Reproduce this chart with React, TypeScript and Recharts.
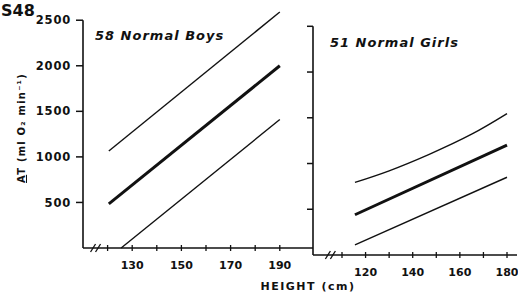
import React from "react";
import { LineChart, Line, XAxis, YAxis, ReferenceLine } from "recharts";

// ---- data ----
const boysUpper = [
  { h: 120.5, at: 1065 },
  { h: 190, at: 2590 },
];
const boysMean = [
  { h: 120.5, at: 485 },
  { h: 190, at: 2000 },
];
const boysLower = [
  { h: 125.5, at: 0 },
  { h: 190, at: 1410 },
];

const girlsUpper = [
  { h: 115.5, at: 793 },
  { h: 130, at: 920 },
  { h: 147, at: 1100 },
  { h: 165, at: 1320 },
  { h: 180, at: 1545 },
];
const girlsMean = [
  { h: 115.5, at: 440 },
  { h: 180, at: 1200 },
];
const girlsLower = [
  { h: 115.5, at: 110 },
  { h: 180, at: 850 },
];

const yTicks = [500, 1000, 1500, 2000, 2500];
const boysXTicks = [120, 130, 140, 150, 160, 170, 180, 190];
const boysXLabels = [130, 150, 170, 190];
const boysBreak = 115.5;
const girlsXTicks = [110, 120, 130, 140, 150, 160, 170, 180];
const girlsXLabels = [120, 140, 160, 180];
const girlsBreak = 105.5;

const INK = "#111";
const FONT = "'DejaVu Sans', sans-serif";

const makeXTick = (labels: number[], breakAt: number) => (props: any) => {
  const { x, y, payload } = props;
  const v = payload.value;
  if (v === breakAt) {
    return (
      <g stroke={INK} strokeWidth={1.3}>
        <line x1={x - 6} y1={y + 4} x2={x - 1} y2={y - 4} />
        <line x1={x - 1} y1={y + 4} x2={x + 4} y2={y - 4} />
      </g>
    );
  }
  return (
    <g>
      <line x1={x} x2={x} y1={y - 3} y2={y + 3} stroke={INK} strokeWidth={1.3} />
      {labels.includes(v) && (
        <text
          x={x}
          y={y + 21}
          textAnchor="middle"
          fill={INK}
          fontFamily={FONT}
          fontWeight="bold"
          fontSize={11}
        >
          {v}
        </text>
      )}
    </g>
  );
};

const tickStyle = {
  fill: INK,
  fontFamily: FONT,
  fontWeight: "bold" as const,
  fontSize: 11.5,
  letterSpacing: 0.8,
};

export default function App() {
  return (
    <div style={{ position: "absolute", left: 0, top: 0, width: 518, height: 295, background: "#fff" }}>
      <div style={{ position: "absolute", left: 0, top: 0 }}>
        <LineChart width={320} height={295} margin={{ top: 2, right: 7, bottom: 17, left: 23 }}>
          <XAxis
            dataKey="h"
            type="number"
            domain={[110, 203.5]}
            ticks={[boysBreak, ...boysXTicks]}
            interval={0}
            height={30}
            tickSize={0}
            tickMargin={0}
            tickLine={false}
            axisLine={{ stroke: INK, strokeWidth: 1.6 }}
            tick={makeXTick(boysXLabels, boysBreak)}
          />
          <YAxis
            type="number"
            domain={[0, 2700]}
            ticks={yTicks}
            interval={0}
            width={60}
            tickSize={7}
            tickMargin={5}
            axisLine={false}
            tickLine={{ stroke: INK, strokeWidth: 1.5 }}
            tick={tickStyle}
          />
          <ReferenceLine
            segment={[
              { x: 110, y: 0 },
              { x: 110, y: 2500 },
            ]}
            stroke={INK}
            strokeWidth={1.6}
          />
          <Line data={boysUpper} dataKey="at" type="linear" stroke={INK} strokeWidth={1.4} dot={false} isAnimationActive={false} />
          <Line data={boysMean} dataKey="at" type="linear" stroke={INK} strokeWidth={3} dot={false} isAnimationActive={false} />
          <Line data={boysLower} dataKey="at" type="linear" stroke={INK} strokeWidth={1.4} dot={false} isAnimationActive={false} />
        </LineChart>
      </div>
      <div style={{ position: "absolute", left: 255, top: 0 }}>
        <LineChart width={263} height={295} margin={{ top: 8, right: 1, bottom: 10, left: 0 }}>
          <XAxis
            dataKey="h"
            type="number"
            domain={[97.7, 184.24]}
            ticks={[girlsBreak, ...girlsXTicks]}
            interval={0}
            height={30}
            tickSize={0}
            tickMargin={0}
            tickLine={false}
            axisLine={{ stroke: INK, strokeWidth: 1.6 }}
            tick={makeXTick(girlsXLabels, girlsBreak)}
          />
          <YAxis
            type="number"
            domain={[0, 2700]}
            ticks={yTicks}
            interval={0}
            width={58}
            tickSize={6}
            tickMargin={4}
            axisLine={false}
            tickLine={{ stroke: INK, strokeWidth: 1.5 }}
            tickFormatter={() => ""}
          />
          <ReferenceLine
            segment={[
              { x: 97.7, y: 0 },
              { x: 97.7, y: 2500 },
            ]}
            stroke={INK}
            strokeWidth={1.6}
          />
          <Line data={girlsUpper} dataKey="at" type="natural" stroke={INK} strokeWidth={1.4} dot={false} isAnimationActive={false} />
          <Line data={girlsMean} dataKey="at" type="linear" stroke={INK} strokeWidth={3} dot={false} isAnimationActive={false} />
          <Line data={girlsLower} dataKey="at" type="linear" stroke={INK} strokeWidth={1.4} dot={false} isAnimationActive={false} />
        </LineChart>
      </div>
      <svg
        width={518}
        height={295}
        style={{ position: "absolute", left: 0, top: 0, pointerEvents: "none" }}
        fontFamily={FONT}
        fill={INK}
      >
        <text x={1} y={16} fontSize={16} fontWeight="bold">S48</text>
        <text x={95} y={40} fontSize={13} fontWeight="bold" fontStyle="italic" letterSpacing={1}>
          58 Normal Boys
        </text>
        <text x={330} y={47} fontSize={13} fontWeight="bold" fontStyle="italic" letterSpacing={1}>
          51 Normal Girls
        </text>
        <text x={308} y={290} fontSize={11} fontWeight="bold" letterSpacing={1.5} textAnchor="middle">
          HEIGHT (cm)
        </text>
        <text
          x={0}
          y={0}
          transform="translate(25,128) rotate(-90)"
          fontSize={10}
          fontWeight="bold"
          letterSpacing={1.2}
          textAnchor="middle"
        >
          <tspan textDecoration="underline">A</tspan>T (ml O₂ min⁻¹)
        </text>
      </svg>
    </div>
  );
}
